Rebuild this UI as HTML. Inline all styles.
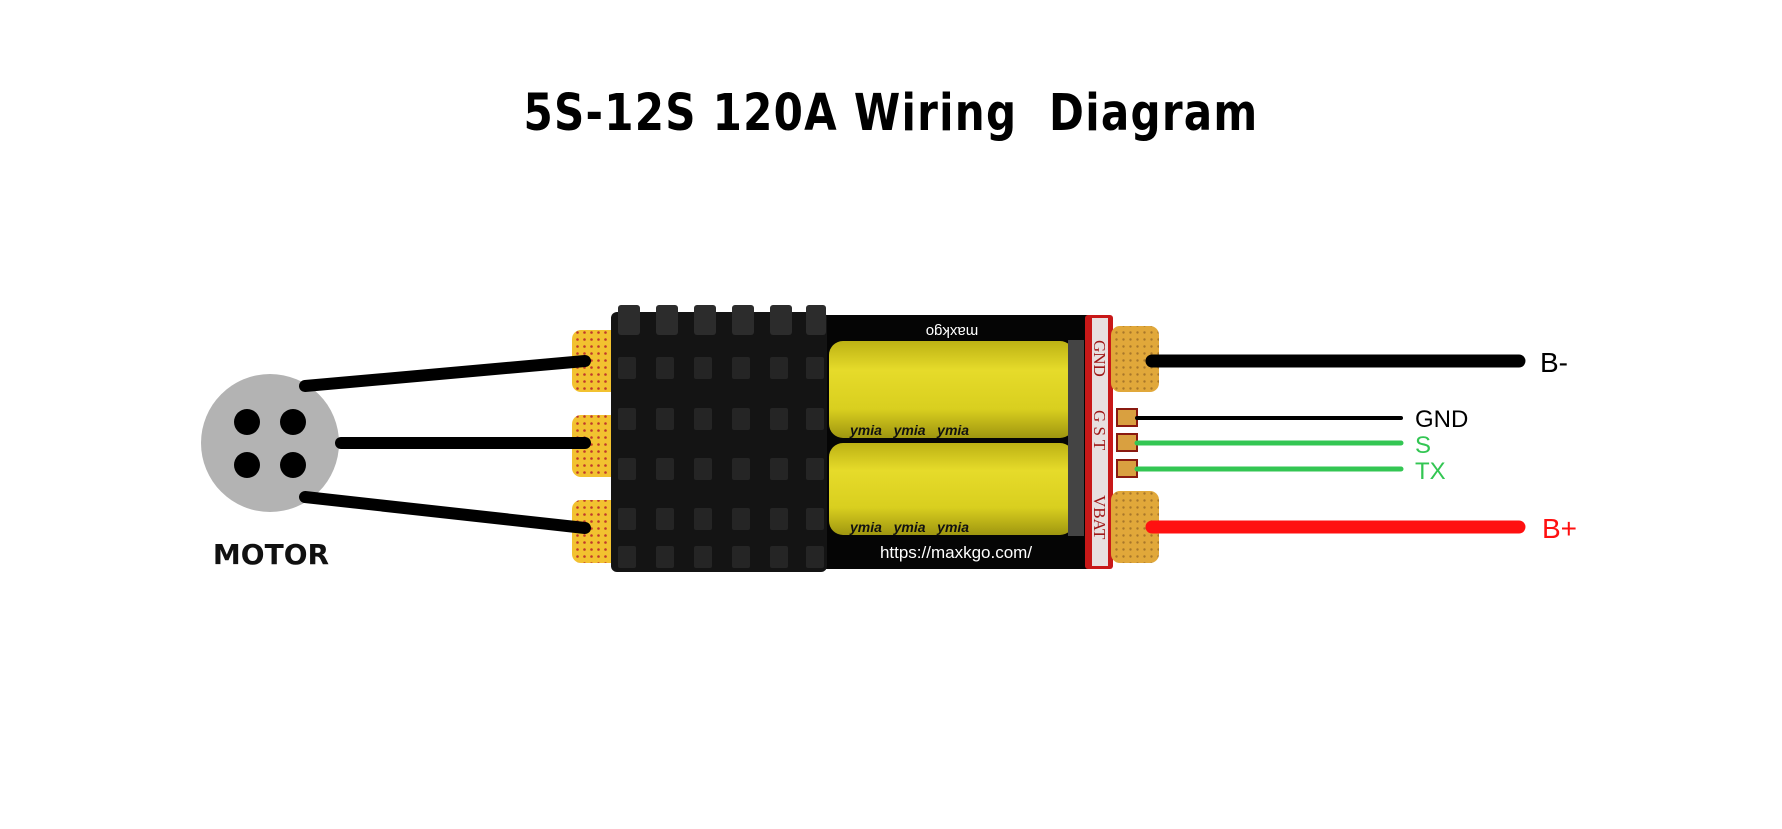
<!DOCTYPE html>
<html><head><meta charset="utf-8"><style>
html,body{margin:0;padding:0;background:#fff;}
body{width:1782px;height:824px;position:relative;overflow:hidden;font-family:"Liberation Sans","DejaVu Sans",sans-serif;}
</style></head><body>
<svg width="1782" height="824" viewBox="0 0 1782 824" xmlns="http://www.w3.org/2000/svg">
<defs>
<pattern id="dots" width="7" height="7" patternUnits="userSpaceOnUse">
<rect width="7" height="7" fill="#f2c230"/><circle cx="3.5" cy="3.5" r="1.3" fill="#c0392b"/>
</pattern>
<pattern id="dots2" width="7" height="7" patternUnits="userSpaceOnUse">
<rect width="7" height="7" fill="#e1a83a"/><circle cx="3.5" cy="3.5" r="1.2" fill="#a8772a"/>
</pattern>
<linearGradient id="cap" x1="0" y1="0" x2="0" y2="1">
<stop offset="0" stop-color="#bdb214"/><stop offset="0.3" stop-color="#e6db2a"/><stop offset="0.7" stop-color="#d9cf1f"/><stop offset="1" stop-color="#9f9610"/>
</linearGradient>
<g id="row"><rect x="618" y="0" width="18" height="22" rx="2"/><rect x="656" y="0" width="18" height="22" rx="2"/><rect x="694" y="0" width="18" height="22" rx="2"/><rect x="732" y="0" width="18" height="22" rx="2"/><rect x="770" y="0" width="18" height="22" rx="2"/><rect x="806" y="0" width="18" height="22" rx="2"/></g>
</defs>
<text x="891" y="130" text-anchor="middle" font-size="51" font-weight="bold" letter-spacing="1.5" fill="#000" font-family="DejaVu Sans, sans-serif" textLength="735" lengthAdjust="spacingAndGlyphs">5S-12S 120A Wiring&#160; Diagram</text>

<!-- motor -->
<circle cx="270" cy="443" r="69" fill="#b3b3b3"/>
<circle cx="247" cy="422" r="13" fill="#000"/><circle cx="293" cy="422" r="13" fill="#000"/>
<circle cx="247" cy="465" r="13" fill="#000"/><circle cx="293" cy="465" r="13" fill="#000"/>
<text x="271" y="564" text-anchor="middle" font-size="28" font-weight="bold" fill="#111" font-family="DejaVu Sans, sans-serif">MOTOR</text>

<!-- left pads -->
<rect x="572" y="330" width="50" height="62" rx="9" fill="url(#dots)"/>
<rect x="572" y="415" width="50" height="62" rx="9" fill="url(#dots)"/>
<rect x="572" y="500" width="50" height="63" rx="9" fill="url(#dots)"/>

<!-- motor wires -->
<g stroke="#000" stroke-width="12" stroke-linecap="round">
<line x1="305" y1="386" x2="585" y2="361"/>
<line x1="341" y1="443" x2="585" y2="443"/>
<line x1="305" y1="497" x2="585" y2="528"/>
</g>

<!-- body -->
<rect x="820" y="315" width="275" height="254" rx="4" fill="#050505"/>
<rect x="1085" y="315" width="28" height="254" rx="3" fill="#c81818"/>
<rect x="1092" y="318" width="16" height="248" fill="#e8e0e0"/>
<text transform="translate(1094,340) rotate(90)" font-size="17" font-family="Liberation Serif, serif" fill="#a01818">GND</text>
<text transform="translate(1094,410) rotate(90)" font-size="17" font-family="Liberation Serif, serif" fill="#a01818">G S T</text>
<text transform="translate(1094,495) rotate(90)" font-size="17" font-family="Liberation Serif, serif" fill="#a01818">VBAT</text>
<rect x="829" y="341" width="245" height="97" rx="14" fill="url(#cap)"/>
<rect x="829" y="443" width="245" height="92" rx="14" fill="url(#cap)"/>
<g font-size="14" font-style="italic" font-weight="bold" fill="#111">
<text x="850" y="435">ymia &#160;&#160;ymia &#160;&#160;ymia</text>
<text x="850" y="532">ymia &#160;&#160;ymia &#160;&#160;ymia</text>
</g>
<rect x="1068" y="340" width="16" height="196" fill="#444"/>
<text x="952" y="337" text-anchor="middle" font-size="15" fill="#fff" transform="rotate(180,952,332)">maxkgo</text>
<text x="956" y="558" text-anchor="middle" font-size="17" fill="#fff">https://maxkgo.com/</text>

<!-- heatsink -->
<rect x="611" y="312" width="216" height="260" rx="6" fill="#141414"/>
<g fill="#2c2c2c">
<rect x="618" y="305" width="22" height="30" rx="3"/><rect x="656" y="305" width="22" height="30" rx="3"/><rect x="694" y="305" width="22" height="30" rx="3"/><rect x="732" y="305" width="22" height="30" rx="3"/><rect x="770" y="305" width="22" height="30" rx="3"/><rect x="806" y="305" width="20" height="30" rx="3"/>
</g>
<g fill="#252525">
<use href="#row" y="357"/><use href="#row" y="408"/><use href="#row" y="458"/><use href="#row" y="508"/><use href="#row" y="546"/>
</g>

<!-- right pads -->
<rect x="1111" y="326" width="48" height="66" rx="9" fill="url(#dots2)"/>
<rect x="1111" y="491" width="48" height="72" rx="9" fill="url(#dots2)"/>
<g fill="#d9a040" stroke="#8a1a10" stroke-width="2">
<rect x="1117" y="409" width="20" height="17"/><rect x="1117" y="434" width="20" height="17"/><rect x="1117" y="460" width="20" height="17"/>
</g>

<!-- right wires -->
<line x1="1152" y1="361" x2="1519" y2="361" stroke="#000" stroke-width="13" stroke-linecap="round"/>
<line x1="1137" y1="418" x2="1401" y2="418" stroke="#000" stroke-width="4" stroke-linecap="round"/>
<line x1="1137" y1="443" x2="1401" y2="443" stroke="#33c653" stroke-width="5" stroke-linecap="round"/>
<line x1="1137" y1="469" x2="1401" y2="469" stroke="#33c653" stroke-width="5" stroke-linecap="round"/>
<line x1="1152" y1="527" x2="1519" y2="527" stroke="#ff1010" stroke-width="13" stroke-linecap="round"/>

<text x="1540" y="372" font-size="28" fill="#000">B-</text>
<text x="1415" y="427" font-size="24" fill="#000">GND</text>
<text x="1415" y="453" font-size="24" fill="#33c653">S</text>
<text x="1415" y="479" font-size="24" fill="#33c653">TX</text>
<text x="1542" y="538" font-size="28" fill="#ff1010">B+</text>
</svg>
</body></html>
